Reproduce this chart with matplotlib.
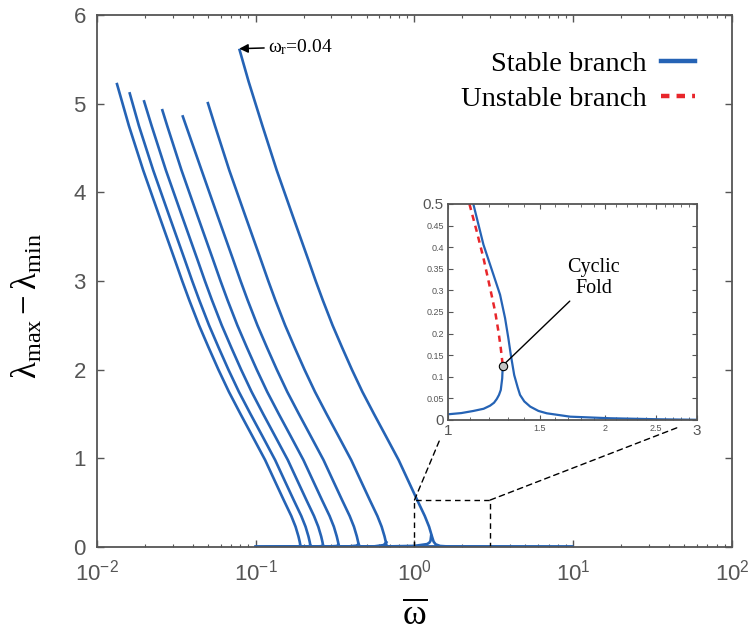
import numpy as np
import matplotlib
matplotlib.use('Agg')
import matplotlib.pyplot as plt
from matplotlib.lines import Line2D
from matplotlib.patches import ConnectionPatch
from matplotlib.ticker import FixedLocator, NullFormatter

plt.rcParams['mathtext.fontset'] = 'custom'
plt.rcParams['mathtext.rm'] = 'Liberation Serif'
plt.rcParams['mathtext.it'] = 'Liberation Serif:italic'
plt.rcParams['mathtext.sf'] = 'Liberation Sans'

# Upper (stable) branches, one per forcing level: top -> fold -> tail along zero
c1_x = [0.0133, 0.01589, 0.01954, 0.02449, 0.03076, 0.03443, 0.03811, 0.04395, 0.05047,
        0.05821, 0.06776, 0.08017, 0.09528, 0.1146, 0.1315, 0.1500, 0.1675, 0.1782,
        0.1858, 0.1892, 0.1910, 0.1935, 0.2044, 0.2483, 10.0]
c1_y = [5.235, 4.75, 4.25, 3.75, 3.25, 3.0, 2.785, 2.5, 2.25, 2.0, 1.75, 1.5, 1.25, 0.981,
        0.75, 0.53, 0.35, 0.229, 0.12, 0.06, 0.02, 0.008, 0.003, 0.001, 0.0]
c2_x = [0.0160, 0.01837, 0.02259, 0.02831, 0.03556, 0.03980, 0.04406, 0.05081, 0.05835,
        0.06730, 0.07834, 0.09268, 0.1102, 0.1325, 0.1520, 0.1734, 0.1936, 0.2060,
        0.2148, 0.2187, 0.2208, 0.2237, 0.2363, 0.2870, 10.0]
c2_y = [5.13, 4.75, 4.25, 3.75, 3.25, 3.0, 2.785, 2.5, 2.25, 2.0, 1.75, 1.5, 1.25, 0.981,
        0.75, 0.53, 0.35, 0.229, 0.12, 0.06, 0.02, 0.008, 0.003, 0.001, 0.0]
c3_x = [0.0197, 0.02209, 0.02716, 0.03404, 0.04276, 0.04786, 0.05297, 0.06109, 0.07015,
        0.08091, 0.09419, 0.1114, 0.1324, 0.1593, 0.1828, 0.2085, 0.2328, 0.2477,
        0.2583, 0.2630, 0.2655, 0.2690, 0.2841, 0.3452, 10.0]
c3_y = [5.04, 4.75, 4.25, 3.75, 3.25, 3.0, 2.785, 2.5, 2.25, 2.0, 1.75, 1.5, 1.25, 0.981,
        0.75, 0.53, 0.35, 0.229, 0.12, 0.06, 0.02, 0.008, 0.003, 0.001, 0.0]
c4_x = [0.02567, 0.02769, 0.03406, 0.04268, 0.05361, 0.06001, 0.06642, 0.07660, 0.08796,
        0.1015, 0.1181, 0.1397, 0.1661, 0.1997, 0.2292, 0.2614, 0.2919, 0.3106,
        0.3238, 0.3298, 0.3329, 0.3372, 0.3562, 0.4328, 10.0]
c4_y = [4.94, 4.75, 4.25, 3.75, 3.25, 3.0, 2.785, 2.5, 2.25, 2.0, 1.75, 1.5, 1.25, 0.981,
        0.75, 0.53, 0.35, 0.229, 0.12, 0.06, 0.02, 0.008, 0.003, 0.001, 0.0]
c5_x = [0.0345, 0.04557, 0.05711, 0.07173, 0.08029, 0.08888, 0.1025, 0.1177,
        0.1358, 0.1580, 0.1870, 0.2222, 0.2673, 0.3067, 0.3498, 0.3906, 0.4156,
        0.4333, 0.4412, 0.4454, 0.4512, 0.4766, 0.5790, 10.0]
c5_y = [4.87, 4.25, 3.75, 3.25, 3.0, 2.785, 2.5, 2.25, 2.0, 1.75, 1.5, 1.25, 0.981,
        0.75, 0.53, 0.35, 0.229, 0.12, 0.06, 0.02, 0.008, 0.003, 0.001, 0.0]
c6_x = [0.0497, 0.05538, 0.06810, 0.08536, 0.1072, 0.1200, 0.1328, 0.1532, 0.1759,
        0.2029, 0.2362, 0.2794, 0.3321, 0.3994, 0.4583, 0.5228, 0.5838, 0.6211,
        0.6476, 0.6594, 0.6657, 0.6744, 0.7123, 0.8654, 10.0]
c6_y = [5.02, 4.75, 4.25, 3.75, 3.25, 3.0, 2.785, 2.5, 2.25, 2.0, 1.75, 1.5, 1.25, 0.981,
        0.75, 0.53, 0.35, 0.229, 0.12, 0.06, 0.02, 0.008, 0.003, 0.001, 0.0]
c7_x = [0.0787, 0.09016, 0.1102, 0.1355, 0.1698, 0.2133, 0.2387, 0.2643, 0.3048, 0.3500,
        0.4036, 0.4698, 0.5559, 0.6607, 0.7946, 0.9118, 1.040, 1.161, 1.236, 1.288,
        1.320, 1.360, 1.450, 1.700, 10.0]
c7_y = [5.62, 5.25, 4.75, 4.25, 3.75, 3.25, 3.0, 2.785, 2.5, 2.25, 2.0, 1.75, 1.5, 1.25,
        0.981, 0.75, 0.53, 0.35, 0.229, 0.12, 0.06, 0.03, 0.012, 0.004, 0.0]

# Lower branches up to the fold
l1_x = [0.1, 0.16, 0.184, 0.19]
l1_y = [0.0, 0.003, 0.007, 0.012]
l2_x = [0.1, 0.19, 0.214, 0.221]
l2_y = [0.0, 0.003, 0.008, 0.014]
l3_x = [0.1, 0.225, 0.257, 0.265]
l3_y = [0.0, 0.004, 0.009, 0.017]
l4_x = [0.1, 0.28, 0.322, 0.333]
l4_y = [0.0, 0.005, 0.011, 0.022]
l5_x = [0.1, 0.38, 0.43, 0.445]
l5_y = [0.0, 0.006, 0.015, 0.032]
l6_x = [0.1, 0.56, 0.64, 0.665]
l6_y = [0.0, 0.008, 0.022, 0.055]
l7_x = [0.1, 0.6, 1.0, 1.2, 1.24, 1.262, 1.273]
l7_y = [0.0, 0.005, 0.013, 0.033, 0.049, 0.07, 0.126]

upper = [(c1_x, c1_y), (c2_x, c2_y), (c3_x, c3_y), (c4_x, c4_y),
         (c5_x, c5_y), (c6_x, c6_y), (c7_x, c7_y)]
lower = [(l1_x, l1_y), (l2_x, l2_y), (l3_x, l3_y), (l4_x, l4_y),
         (l5_x, l5_y), (l6_x, l6_y), (l7_x, l7_y)]

# Zoom around the cyclic fold of the omega_r = 0.04 response
in_st_x = [1.118, 1.169, 1.222, 1.258, 1.286, 1.305, 1.319, 1.339, 1.36, 1.374, 1.40, 1.437,
           1.49, 1.546, 1.714, 2.046, 2.55, 3.0]
in_st_y = [0.5, 0.406, 0.336, 0.290, 0.236, 0.189, 0.151, 0.104, 0.075, 0.058, 0.043, 0.031,
           0.021, 0.0155, 0.0077, 0.004, 0.0016, 0.0005]
in_un_x = [1.099, 1.135, 1.169, 1.204, 1.231, 1.249, 1.262, 1.273]
in_un_y = [0.5, 0.4365, 0.375, 0.305, 0.251, 0.205, 0.166, 0.126]
in_lo_x = [1.0, 1.06, 1.118, 1.17, 1.204, 1.225, 1.24, 1.252, 1.262, 1.27, 1.273]
in_lo_y = [0.0132, 0.016, 0.0209, 0.026, 0.0332, 0.040, 0.0487, 0.058, 0.0695, 0.0966, 0.126]
fold_x, fold_y = 1.273, 0.126

zoom_box = (1.0, 3.0, 0.53)  # x0, x1, top of the zoomed window

x_major = [1e-2, 1e-1, 1e0, 1e1, 1e2]
x_labels = [r'$\mathsf{10^{-2}}$', r'$\mathsf{10^{-1}}$', r'$\mathsf{10^{0}}$',
            r'$\mathsf{10^{1}}$', r'$\mathsf{10^{2}}$']
y_major = [0, 1, 2, 3, 4, 5, 6]

in_x_major = [1, 1.5, 2, 2.5, 3]
in_x_labels = ['1', '1.5', '2', '2.5', '3']
in_y_major = [0, 0.05, 0.1, 0.15, 0.2, 0.25, 0.3, 0.35, 0.4, 0.45, 0.5]
in_y_labels = ['0', '0.05', '0.1', '0.15', '0.2', '0.25', '0.3', '0.35', '0.4', '0.45', '0.5']

blue = '#2563b5'
red = '#e8262b'
grey = '#555555'
serif = 'Liberation Serif'
sans = 'Liberation Sans'

fig = plt.figure(figsize=(7.53, 6.38), dpi=100)
ax = fig.add_axes([0.1288, 0.1426, 0.8433, 0.8339])

for (ux, uy), (lx, ly) in zip(upper, lower):
    ax.plot(ux, uy, color=blue, lw=1.9, solid_capstyle='butt')
    ax.plot(lx, ly, color=blue, lw=1.9)

ax.set_xscale('log')
ax.set_xlim(1e-2, 1e2)
ax.set_ylim(0, 6)
ax.xaxis.set_major_locator(FixedLocator(x_major))
ax.xaxis.set_minor_locator(FixedLocator(
    [m * 10.0 ** e for e in range(-2, 2) for m in range(2, 10)]))
ax.xaxis.set_minor_formatter(NullFormatter())
ax.set_xticklabels(x_labels)
ax.set_yticks(y_major)
ax.set_yticklabels([str(v) for v in y_major])
ax.tick_params(which='both', direction='in', top=True, right=True,
               color=grey, labelcolor=grey, labelsize=16)
ax.tick_params(which='major', length=5, width=1)
ax.tick_params(which='minor', length=2.5, width=0.8)
ax.tick_params(axis='x', pad=9)
ax.tick_params(axis='y', pad=8)
for lab in ax.get_xticklabels() + ax.get_yticklabels():
    lab.set_fontfamily(sans)
for sp in ax.spines.values():
    sp.set_color(grey)
    sp.set_linewidth(1.3)

ax.set_xlabel(r'$\overline{\mathrm{\omega}}$', fontsize=26, labelpad=9)
ax.set_ylabel(r'$\mathrm{\lambda_{max}-\lambda_{min}}$', fontsize=25)
ax.yaxis.set_label_coords(-0.083, 0.453)

# dashed window marking the zoomed region
bx0, bx1, btop = zoom_box
ax.plot([bx0, bx0, bx1, bx1], [0, btop, btop, 0], color='k', lw=1.0,
        ls=(0, (4, 3)))

ax.annotate(r'$\mathrm{\omega_r}$=0.04', xy=(c7_x[0], c7_y[0]),
            xytext=(0.12, 5.64), ha='left', va='center',
            fontsize=14, fontfamily=serif,
            arrowprops=dict(arrowstyle='-|>', color='k', lw=1.1,
                            mutation_scale=13, shrinkA=1, shrinkB=0))

handles = [Line2D([], [], color=blue, lw=3.2),
           Line2D([], [], color=red, lw=3.2, ls=(0, (1.9, 1.6)))]
ax.legend(handles, ['Stable branch', 'Unstable branch'], loc='upper right',
          bbox_to_anchor=(0.9417, 0.932), borderaxespad=0, borderpad=0,
          frameon=False, markerfirst=False, handlelength=1.2,
          handletextpad=0.5, labelspacing=0.3,
          prop={'family': serif, 'size': 20.5})

# inset
ax_in = fig.add_axes([0.595, 0.3417, 0.3307, 0.3386])
ax_in.plot(in_lo_x, in_lo_y, color=blue, lw=1.6)
ax_in.plot(in_st_x, in_st_y, color=blue, lw=1.6)
ax_in.plot(in_un_x, in_un_y, color=red, lw=1.8, ls=(0, (2.5, 2)))
ax_in.plot([fold_x], [fold_y], 'o', ms=6, mfc='#c4c4c4', mec='k', mew=0.8,
           zorder=5)
ax_in.annotate('Cyclic\nFold', xy=(fold_x, fold_y), xytext=(1.9, 0.328),
               ha='center', va='center', fontsize=14.5, fontfamily=serif,
               linespacing=1.15,
               arrowprops=dict(arrowstyle='-', color='k', lw=1.0,
                               shrinkA=0, shrinkB=0))

ax_in.set_xscale('log')
ax_in.set_xlim(1, 3)
ax_in.set_ylim(0, 0.5)
ax_in.xaxis.set_major_locator(FixedLocator(in_x_major))
ax_in.xaxis.set_minor_locator(FixedLocator(
    [1.1, 1.2, 1.3, 1.4, 1.6, 1.7, 1.8, 1.9, 2.1, 2.2, 2.3, 2.4, 2.6, 2.7, 2.8, 2.9]))
ax_in.xaxis.set_minor_formatter(NullFormatter())
ax_in.set_xticklabels(in_x_labels)
ax_in.set_yticks(in_y_major)
ax_in.set_yticklabels(in_y_labels)
ax_in.tick_params(which='both', direction='in', top=True, right=True,
                  color=grey, labelcolor=grey, labelsize=6.5, pad=3)
ax_in.tick_params(which='major', length=3.5, width=0.8)
ax_in.tick_params(which='minor', length=2, width=0.6)
for lab in ax_in.get_xticklabels() + ax_in.get_yticklabels():
    lab.set_fontfamily(sans)
for lab in (ax_in.get_xticklabels()[0], ax_in.get_xticklabels()[-1],
            ax_in.get_yticklabels()[0], ax_in.get_yticklabels()[-1]):
    lab.set_fontsize(11)
for sp in ax_in.spines.values():
    sp.set_color(grey)
    sp.set_linewidth(1.3)

# connectors from the dashed window to the inset
for xa, corner in ((bx0, (0, 0)), (bx1, (1, 0))):
    con = ConnectionPatch(xyA=(xa, btop), coordsA=ax.transData,
                          xyB=corner, coordsB=ax_in.transAxes,
                          color='k', lw=1.0, ls=(0, (4, 3)), shrinkB=14)
    fig.add_artist(con)

fig.savefig('out.png', dpi=100)
